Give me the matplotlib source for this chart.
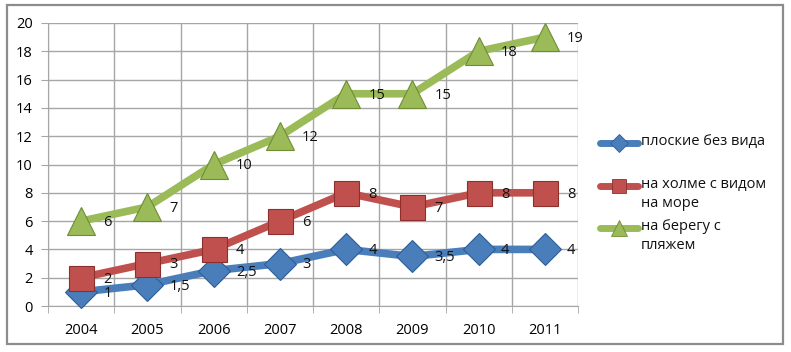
import matplotlib
matplotlib.use("Agg")
from matplotlib import pyplot as plt
from matplotlib.lines import Line2D
from matplotlib.patches import Rectangle

years = ["2004", "2005", "2006", "2007", "2008", "2009", "2010", "2011"]
flat = [1, 1.5, 2.5, 3, 4, 3.5, 4, 4]
hill = [2, 3, 4, 6, 8, 7, 8, 8]
beach = [6, 7, 10, 12, 15, 15, 18, 19]
names = ["плоские без вида", "на холме с видом\nна море", "на берегу с\nпляжем"]

plt.rcParams['font.family'] = ['Open Sans', 'DejaVu Sans']

W, H = 791, 352
fig = plt.figure(figsize=(W / 100, H / 100), dpi=100)
ax = fig.add_axes([48 / W, 1 - 306 / H, (578 - 48) / W, (306 - 23) / H])

# рамка вокруг всего рисунка
fig.patches.append(Rectangle((7 / W, 1 - 344 / H), (783 - 7) / W, (344 - 5) / H,
                             transform=fig.transFigure, fill=False,
                             edgecolor="#8c8c8c", linewidth=1.6))

series = [
    (flat, "#4a7ebb", "#2c5d97", "D", 16),
    (hill, "#c0504d", "#8c2f2d", "s", 18),
    (beach, "#9bbb59", "#6f8c34", "^", 20),
]

x = list(range(len(years)))
for vals, col, edge, mk, ms in series:
    ax.plot(x, vals, color=col, linewidth=5.5, marker=mk, markersize=ms,
            markerfacecolor=col, markeredgecolor=edge, markeredgewidth=0.8,
            solid_capstyle="round", zorder=3, clip_on=False)
    for xi, v in zip(x, vals):
        txt = ("%g" % v).replace(".", ",")
        ax.annotate(txt, (xi, v), xytext=(16, -1), textcoords="offset points",
                    ha="left", va="center", fontsize=10.5, color="#111111", zorder=4)

ax.set_xlim(-0.5, len(years) - 0.5)
ax.set_ylim(0, 20)
ax.set_yticks(range(0, 21, 2))
ax.set_xticks(x)
ax.set_xticklabels(years)
ax.set_xticks([i - 0.5 for i in range(len(years) + 1)], minor=True)
ax.grid(True, which="major", axis="y", color="#a6a6a6", linewidth=1)
ax.grid(True, which="minor", axis="x", color="#a6a6a6", linewidth=1)
ax.tick_params(axis="x", which="major", length=0, pad=12, labelsize=10.5)
ax.tick_params(axis="x", which="minor", length=5, color="#a6a6a6")
ax.tick_params(axis="y", length=5, color="#a6a6a6", labelsize=10.5, pad=6)
for s in ax.spines.values():
    s.set_color("#a6a6a6")
ax.spines["top"].set_visible(False)
ax.spines["right"].set_visible(False)
ax.set_axisbelow(True)

# легенда
leg_y = [143, 186, 228]
for (vals, col, edge, mk, ms), name, yy in zip(series, names, leg_y):
    yf = 1 - yy / H
    fig.lines.append(Line2D([600 / W, 638 / W], [yf, yf], transform=fig.transFigure,
                            color=col, linewidth=5, solid_capstyle="round"))
    fig.lines.append(Line2D([619 / W], [yf], transform=fig.transFigure,
                            marker=mk, markersize=ms * 0.55, color=col,
                            markeredgecolor=edge, markeredgewidth=0.6))
    fig.text(641 / W, yf + 9 / H, name, ha="left", va="top", fontsize=10.5,
             color="#111111", linespacing=1.35)

fig.savefig("out.png", dpi=100)
